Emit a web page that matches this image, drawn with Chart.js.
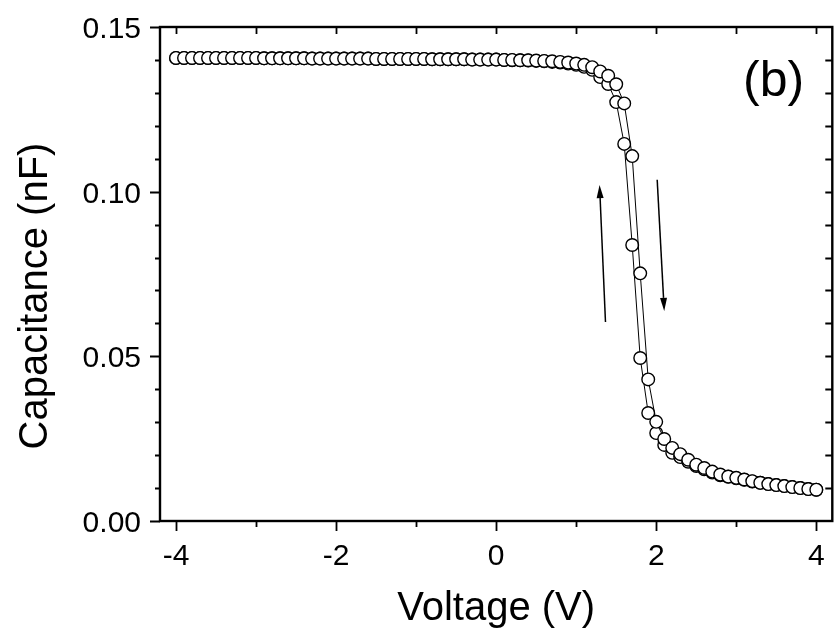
<!DOCTYPE html>
<html>
<head>
<meta charset="utf-8">
<script src="https://cdn.jsdelivr.net/npm/chart.js@4.4.1/dist/chart.umd.min.js"></script>
<style>
  html, body { margin: 0; padding: 0; background: #fff; }
  #wrap { width: 840px; height: 632px; }
</style>
</head>
<body>
<div id="wrap"><canvas id="c" width="840" height="632"></canvas></div>
<script>
// Voltage steps (V)
const voltage = [
  -4.0, -3.9, -3.8, -3.7, -3.6, -3.5, -3.4, -3.3, -3.2, -3.1,
  -3.0, -2.9, -2.8, -2.7, -2.6, -2.5, -2.4, -2.3, -2.2, -2.1,
  -2.0, -1.9, -1.8, -1.7, -1.6, -1.5, -1.4, -1.3, -1.2, -1.1,
  -1.0, -0.9, -0.8, -0.7, -0.6, -0.5, -0.4, -0.3, -0.2, -0.1,
  0.0, 0.1, 0.2, 0.3, 0.4, 0.5, 0.6, 0.7, 0.8, 0.9,
  1.0, 1.1, 1.2, 1.3, 1.4, 1.5, 1.6, 1.7, 1.8, 1.9,
  2.0, 2.1, 2.2, 2.3, 2.4, 2.5, 2.6, 2.7, 2.8, 2.9,
  3.0, 3.1, 3.2, 3.3, 3.4, 3.5, 3.6, 3.7, 3.8, 3.9,
  4.0
];

// sweep -4 -> 4 (nF)
const capForward = [
  0.1406, 0.1406, 0.1406, 0.1406, 0.1406, 0.1406, 0.1406, 0.1406, 0.1406, 0.1406,
  0.1406, 0.1405, 0.1405, 0.1405, 0.1405, 0.1405, 0.1405, 0.1404, 0.1404, 0.1404,
  0.1404, 0.1404, 0.1404, 0.1404, 0.1404, 0.1403, 0.1403, 0.1403, 0.1403, 0.1403,
  0.1403, 0.1403, 0.1402, 0.1402, 0.1402, 0.1402, 0.1402, 0.1401, 0.1401, 0.1401,
  0.1401, 0.1400, 0.1400, 0.1399, 0.1399, 0.1398, 0.1397, 0.1396, 0.1394, 0.1392,
  0.1389, 0.1385, 0.1378, 0.1365, 0.1352, 0.1326, 0.1268, 0.1108, 0.0752, 0.0430,
  0.0301, 0.0249, 0.0222, 0.0203, 0.0186, 0.0171, 0.0161, 0.0150, 0.0141, 0.0135,
  0.0131, 0.0126, 0.0121, 0.0116, 0.0112, 0.0109, 0.0106, 0.0103, 0.0100, 0.0097,
  0.0095
];

// sweep 4 -> -4 (nF), listed in the same voltage order
const capBackward = [
  0.1406, 0.1406, 0.1406, 0.1406, 0.1406, 0.1406, 0.1406, 0.1406, 0.1406, 0.1406,
  0.1406, 0.1405, 0.1405, 0.1405, 0.1405, 0.1405, 0.1405, 0.1404, 0.1404, 0.1404,
  0.1404, 0.1404, 0.1404, 0.1404, 0.1404, 0.1403, 0.1403, 0.1403, 0.1403, 0.1403,
  0.1403, 0.1403, 0.1402, 0.1402, 0.1402, 0.1402, 0.1402, 0.1401, 0.1401, 0.1401,
  0.1401, 0.1400, 0.1399, 0.1399, 0.1398, 0.1397, 0.1396, 0.1394, 0.1392, 0.1389,
  0.1385, 0.1379, 0.1370, 0.1348, 0.1327, 0.1272, 0.1145, 0.0838, 0.0495, 0.0328,
  0.0267, 0.0231, 0.0207, 0.0194, 0.0180, 0.0167, 0.0157, 0.0147, 0.0139, 0.0134,
  0.0130, 0.0125, 0.0120, 0.0116, 0.0112, 0.0109, 0.0106, 0.0103, 0.0100, 0.0097,
  0.0095
];

const xMajorTicks = [-4, -2, 0, 2, 4];
const xMinorTicks = [-3, -1, 1, 3];
const yMajorTicks = [0, 0.05, 0.10, 0.15];
const yMinorTicks = [0.01, 0.02, 0.03, 0.04, 0.06, 0.07, 0.08, 0.09, 0.11, 0.12, 0.13, 0.14];

// sweep direction arrows, [x0, y0, x1, y1] in data units (head at x1,y1)
const arrowUp = [1.366, 0.0604, 1.292, 0.1020];
const arrowDown = [2.012, 0.1036, 2.100, 0.0638];

const FONT = '"Liberation Sans", Arial, sans-serif';

function toPoints(ys) {
  return voltage.map((v, i) => ({ x: v, y: ys[i] }));
}

function arrow(ctx, x0, y0, x1, y1) {
  const ang = Math.atan2(y1 - y0, x1 - x0);
  const hl = 13, hw = 3.5;
  const bx = x1 - hl * Math.cos(ang), by = y1 - hl * Math.sin(ang);
  ctx.beginPath();
  ctx.moveTo(x0, y0);
  ctx.lineTo(bx, by);
  ctx.stroke();
  ctx.beginPath();
  ctx.moveTo(x1, y1);
  ctx.lineTo(bx + hw * Math.sin(ang), by - hw * Math.cos(ang));
  ctx.lineTo(bx - hw * Math.sin(ang), by + hw * Math.cos(ang));
  ctx.closePath();
  ctx.fill();
}

const framePlugin = {
  id: 'frame',
  afterDraw(chart) {
    const ctx = chart.ctx;
    const a = chart.chartArea;
    const xs = chart.scales.x, ys = chart.scales.y;
    ctx.save();
    ctx.strokeStyle = '#000';
    ctx.fillStyle = '#000';

    // box
    ctx.lineWidth = 2.4;
    ctx.strokeRect(a.left, a.top, a.right - a.left, a.bottom - a.top);

    ctx.lineWidth = 1.8;
    ctx.beginPath();
    // bottom (outward) and top (inward)
    xMajorTicks.forEach(v => {
      const px = Math.round(xs.getPixelForValue(v)) + 0.5;
      ctx.moveTo(px, a.bottom); ctx.lineTo(px, a.bottom + 10);
      ctx.moveTo(px, a.top); ctx.lineTo(px, a.top + 7);
    });
    xMinorTicks.forEach(v => {
      const px = Math.round(xs.getPixelForValue(v)) + 0.5;
      ctx.moveTo(px, a.bottom); ctx.lineTo(px, a.bottom + 6);
      ctx.moveTo(px, a.top); ctx.lineTo(px, a.top + 7);
    });
    // left (outward) and right (inward)
    yMajorTicks.forEach(v => {
      const py = Math.round(ys.getPixelForValue(v)) + 0.5;
      ctx.moveTo(a.left, py); ctx.lineTo(a.left - 10, py);
      if (v > 0 && v < 0.15) { ctx.moveTo(a.right, py); ctx.lineTo(a.right - 7, py); }
    });
    yMinorTicks.forEach(v => {
      const py = Math.round(ys.getPixelForValue(v)) + 0.5;
      ctx.moveTo(a.left, py); ctx.lineTo(a.left - 5, py);
      ctx.moveTo(a.right, py); ctx.lineTo(a.right - 7, py);
    });
    ctx.stroke();

    // tick labels
    ctx.font = '30px ' + FONT;
    ctx.textAlign = 'center';
    ctx.textBaseline = 'alphabetic';
    xMajorTicks.forEach(v => {
      ctx.fillText(String(v), xs.getPixelForValue(v), 565);
    });
    ctx.textAlign = 'right';
    yMajorTicks.forEach(v => {
      ctx.fillText(v.toFixed(2), 141, ys.getPixelForValue(v) + 11);
    });

    // arrows
    ctx.lineWidth = 1.5;
    [arrowUp, arrowDown].forEach(d => {
      arrow(ctx,
        xs.getPixelForValue(d[0]), ys.getPixelForValue(d[1]),
        xs.getPixelForValue(d[2]), ys.getPixelForValue(d[3]));
    });

    // panel label
    ctx.font = '50px ' + FONT;
    ctx.textAlign = 'left';
    ctx.fillText('(b)', 743, 96);

    // axis titles
    ctx.font = '40px ' + FONT;
    ctx.textAlign = 'center';
    ctx.fillText('Voltage (V)', (a.left + a.right) / 2, 620);
    ctx.translate(47, 296);
    ctx.rotate(-Math.PI / 2);
    ctx.fillText('Capacitance (nF)', 0, 0);
    ctx.restore();
  }
};

const pointStyle = {
  showLine: true,
  borderColor: '#000',
  borderWidth: 1,
  pointRadius: 6.3,
  pointBorderWidth: 1.4,
  pointBackgroundColor: '#fff',
  pointBorderColor: '#000',
  tension: 0
};

new Chart(document.getElementById('c'), {
  type: 'scatter',
  data: {
    datasets: [
      Object.assign({ label: 'forward', data: toPoints(capForward) }, pointStyle),
      Object.assign({ label: 'backward', data: toPoints(capBackward) }, pointStyle)
    ]
  },
  plugins: [framePlugin],
  options: {
    responsive: false,
    animation: false,
    layout: { padding: { top: 27, right: 4, left: 0, bottom: 0 } },
    plugins: { legend: { display: false }, tooltip: { enabled: false } },
    scales: {
      x: {
        type: 'linear',
        min: -4.2,
        max: 4.2,
        grid: { display: false, drawTicks: false },
        border: { display: false },
        ticks: { display: false },
        afterFit: s => { s.height = 111; }
      },
      y: {
        min: 0,
        max: 0.15,
        grid: { display: false, drawTicks: false },
        border: { display: false },
        ticks: { display: false },
        afterFit: s => { s.height; s.width = 160; }
      }
    }
  }
});
</script>
</body>
</html>
